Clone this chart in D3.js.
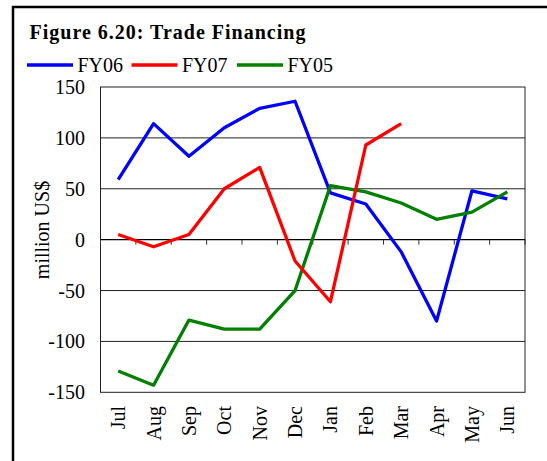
<!DOCTYPE html>
<html>
<head>
<meta charset="utf-8">
<script src="https://cdn.jsdelivr.net/npm/d3@7"></script>
<style>
  body { margin: 0; background: #fff; }
  text { font-family: "Liberation Serif", "Times New Roman", serif; fill: #000; }
</style>
</head>
<body>
<svg id="chart" width="547" height="461"></svg>
<script>
// data
const months = ["Jul", "Aug", "Sep", "Oct", "Nov", "Dec", "Jan", "Feb", "Mar", "Apr", "May", "Jun"];
const fy06 = [59, 114, 82, 110, 129, 136, 46, 35, -12, -80, 48, 40];
const fy07 = [5, -7, 5, 50, 71, -21, -61, 93, 114, null, null, null];
const fy05 = [-129, -143, -79, -88, -88, -50, 53, 47, 36, 20, 27, 47];
const yTicks = [-150, -100, -50, 0, 50, 100, 150];

const legendOrder = [
  {name: "FY06", values: fy06, color: "#0000ff"},
  {name: "FY07", values: fy07, color: "#ff0000"},
  {name: "FY05", values: fy05, color: "#008000"}
];
// draw order seen in the picture: blue, green, red on top
const drawOrder = [legendOrder[0], legendOrder[2], legendOrder[1]];

const svg = d3.select("#chart");
const plot = {left: 100.5, right: 525, top: 87, bottom: 392.3};

// outer frame (runs off the right and bottom of the picture)
svg.append("rect")
    .attr("x", 13).attr("y", 7)
    .attr("width", 600).attr("height", 500)
    .attr("fill", "none")
    .attr("stroke", "#000")
    .attr("stroke-width", 2.5);

// title
svg.append("text")
    .attr("x", 29.5).attr("y", 39)
    .attr("font-size", "20px")
    .attr("font-weight", "bold")
    .attr("letter-spacing", "1px")
    .text("Figure 6.20: Trade Financing");

// scales
const x = d3.scalePoint()
    .domain(months)
    .range([plot.left, plot.right])
    .padding(0.5);

const y = d3.scaleLinear()
    .domain([-150, 150])
    .range([plot.bottom, plot.top]);

const step = x.step();

// gridlines
svg.append("g")
    .selectAll("line")
    .data(yTicks.filter(function(d) { return d != 0 && d != 150 && d != -150; }))
    .enter().append("line")
    .attr("x1", plot.left).attr("x2", plot.right)
    .attr("y1", function(d) { return y(d); })
    .attr("y2", function(d) { return y(d); })
    .attr("stroke", "#222")
    .attr("stroke-width", 1);

// plot border
svg.append("rect")
    .attr("x", plot.left).attr("y", plot.top)
    .attr("width", plot.right - plot.left)
    .attr("height", plot.bottom - plot.top)
    .attr("fill", "none")
    .attr("stroke", "#222")
    .attr("stroke-width", 1);

// category axis sits on the zero line
const boundaries = months.map(function(m) { return x(m) - step / 2; }).concat([plot.right]);
const xAxis = svg.append("g");
xAxis.append("line")
    .attr("x1", plot.left).attr("x2", plot.right)
    .attr("y1", y(0)).attr("y2", y(0))
    .attr("stroke", "#000")
    .attr("stroke-width", 1.3);
xAxis.selectAll(".tick")
    .data(boundaries)
    .enter().append("line")
    .attr("class", "tick")
    .attr("x1", function(d) { return d; })
    .attr("x2", function(d) { return d; })
    .attr("y1", y(0)).attr("y2", y(0) + 5)
    .attr("stroke", "#333");

// month labels, rotated
svg.append("g")
    .selectAll("text")
    .data(months)
    .enter().append("text")
    .attr("transform", function(d) { return "translate(" + x(d) + ",406) rotate(-90)"; })
    .attr("text-anchor", "end")
    .attr("dy", "0.35em")
    .attr("font-size", "20px")
    .text(function(d) { return d; });

// value labels
svg.append("g")
    .selectAll("text")
    .data(yTicks)
    .enter().append("text")
    .attr("x", 85)
    .attr("y", function(d) { return y(d); })
    .attr("dy", "0.35em")
    .attr("text-anchor", "end")
    .attr("font-size", "20px")
    .text(function(d) { return d; });

svg.append("text")
    .attr("transform", "translate(49,230) rotate(-90)")
    .attr("text-anchor", "middle")
    .attr("font-size", "20px")
    .text("million US$");

// series
const line = d3.line()
    .defined(function(d) { return d.v != null; })
    .x(function(d) { return x(d.m); })
    .y(function(d) { return y(d.v); });

svg.append("g")
    .selectAll("path")
    .data(drawOrder)
    .enter().append("path")
    .attr("d", function(s) { return line(months.map(function(m, i) { return {m: m, v: s.values[i]}; })); })
    .attr("fill", "none")
    .attr("stroke", function(s) { return s.color; })
    .attr("stroke-width", 3.3)
    .attr("stroke-linejoin", "round");

// legend
const legendX = [27, 131.5, 237];
const legend = svg.append("g")
    .selectAll("g")
    .data(legendOrder)
    .enter().append("g")
    .attr("transform", function(d, i) { return "translate(" + legendX[i] + ",65)"; });

legend.append("line")
    .attr("x1", 0).attr("x2", 46)
    .attr("stroke", function(d) { return d.color; })
    .attr("stroke-width", 3.3);

legend.append("text")
    .attr("x", 50.5)
    .attr("y", 6.5)
    .attr("font-size", "20px")
    .text(function(d) { return d.name; });
</script>
</body>
</html>
